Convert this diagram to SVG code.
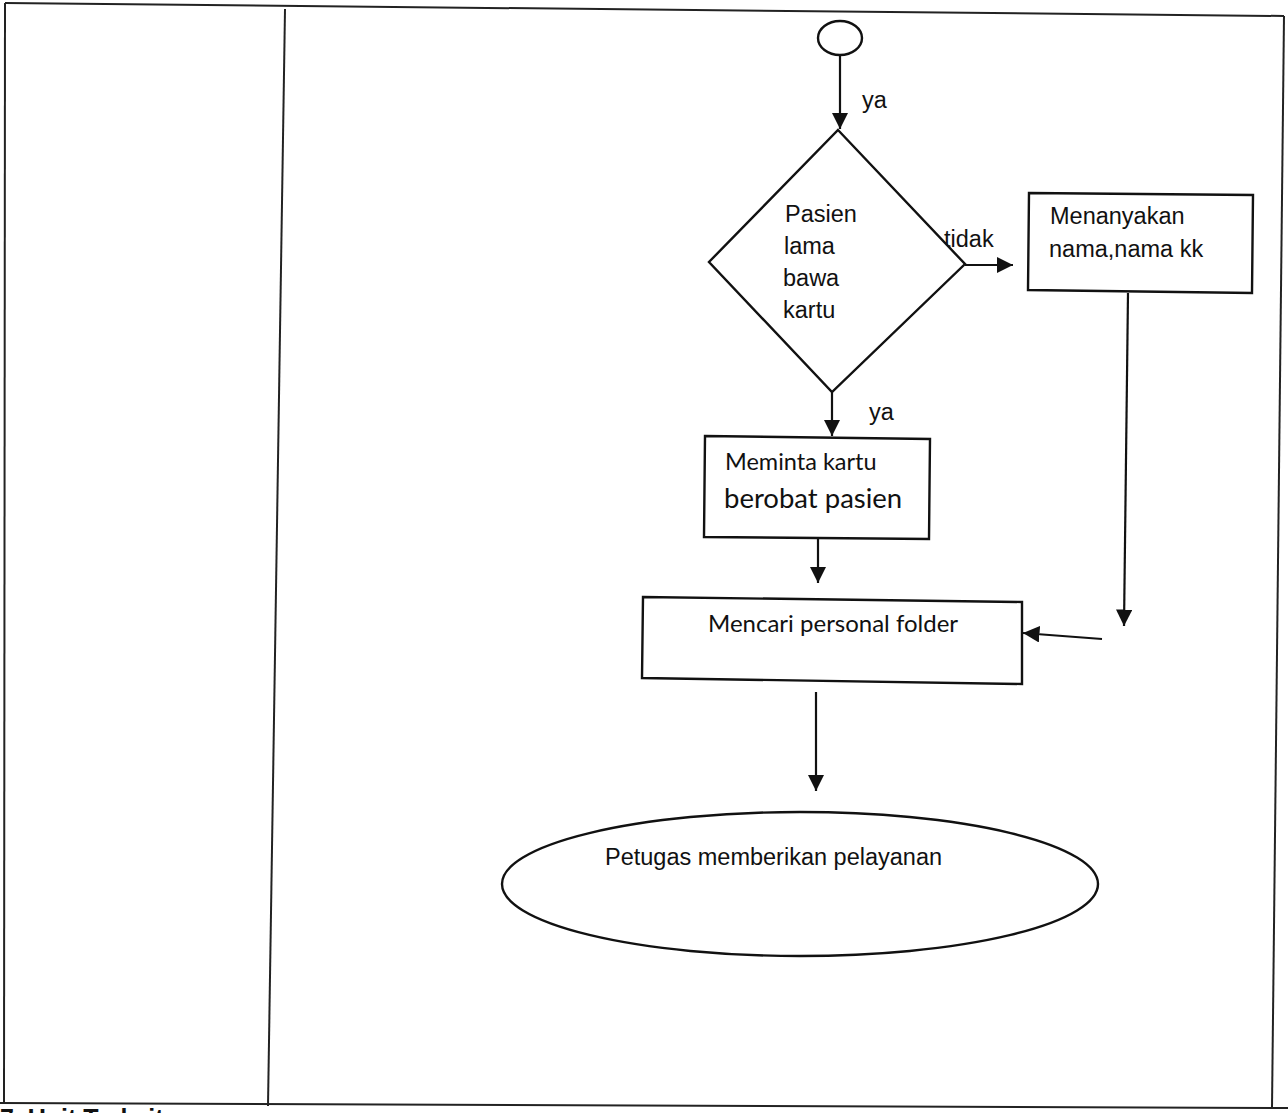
<svg xmlns="http://www.w3.org/2000/svg" width="1288" height="1113" viewBox="0 0 1288 1113">
<defs>
<marker id="arr" viewBox="0 0 10 10" refX="10" refY="5" markerWidth="7.5" markerHeight="7.5" markerUnits="strokeWidth" orient="auto">
<path d="M0,0 L10,5 L0,10 z" fill="#111"/>
</marker>
<style>
.ln{stroke:#111;stroke-width:2.2;fill:none}
.sh{stroke:#111;stroke-width:2.4;fill:#fff}
.tb{stroke:#222;stroke-width:2;fill:none}
.t{font-family:"Liberation Sans",Arial,sans-serif;font-size:23.5px;fill:#111}
.c{font-family:Lato,"Open Sans",sans-serif;fill:#111}
</style>
</defs>
<rect width="1288" height="1113" fill="#fff"/>
<g id="table">
<path class="tb" d="M5,3 L1284,16"/>
<path class="tb" d="M5,3 L4,1103"/>
<path class="tb" d="M285,9 L268,1106"/>
<path class="tb" d="M1284,16 L1272,1108"/>
<path class="tb" d="M0,1103 L1288,1108"/>
<text x="0" y="1127" style="font-family:'Liberation Sans',Arial,sans-serif;font-size:25px;font-weight:bold;fill:#111">7. Unit Terkait</text>
</g>
<g id="connectors">
<line class="ln" x1="840" y1="56" x2="840" y2="129" marker-end="url(#arr)"/>
<text class="t" x="862" y="108">ya</text>
<line class="ln" x1="965" y1="265" x2="1013" y2="265" marker-end="url(#arr)"/>
<text class="t" x="944" y="247">tidak</text>
<line class="ln" x1="832" y1="392" x2="832" y2="436" marker-end="url(#arr)"/>
<text class="t" x="869" y="420">ya</text>
<line class="ln" x1="1128" y1="293" x2="1124" y2="626" marker-end="url(#arr)"/>
<line class="ln" x1="818" y1="539" x2="818" y2="583" marker-end="url(#arr)"/>
<line class="ln" x1="1102" y1="639" x2="1023" y2="633" marker-end="url(#arr)"/>
<line class="ln" x1="816" y1="692" x2="816" y2="791" marker-end="url(#arr)"/>
</g>
<g id="start">
<ellipse class="sh" cx="840" cy="38" rx="22" ry="17"/>
</g>
<g id="decision">
<path class="sh" d="M838,130 L965,264 L832,392 L709,262 Z"/>
<text class="t" x="785" y="222">Pasien</text>
<text class="t" x="784" y="254">lama</text>
<text class="t" x="783" y="286">bawa</text>
<text class="t" x="783" y="318">kartu</text>
</g>
<g id="menanyakan">
<path class="sh" d="M1029,193 L1253,195 L1252,293 L1028,290 Z"/>
<text class="t" x="1050" y="224">Menanyakan</text>
<text class="t" x="1049" y="257">nama,nama kk</text>
</g>
<g id="meminta">
<path class="sh" d="M705,436 L930,439 L929,539 L704,537 Z"/>
<text class="c" x="725" y="470" font-size="23.5">Meminta kartu</text>
<text class="c" x="724" y="508" font-size="27.5">berobat pasien</text>
</g>
<g id="mencari">
<path class="sh" d="M643,597 L1022,602 L1022,684 L642,678 Z"/>
<text class="c" x="708" y="632" font-size="24">Mencari personal folder</text>
</g>
<g id="end">
<ellipse class="sh" cx="800" cy="884" rx="298" ry="72"/>
<text class="t" x="605" y="865">Petugas memberikan pelayanan</text>
</g>
</svg>
